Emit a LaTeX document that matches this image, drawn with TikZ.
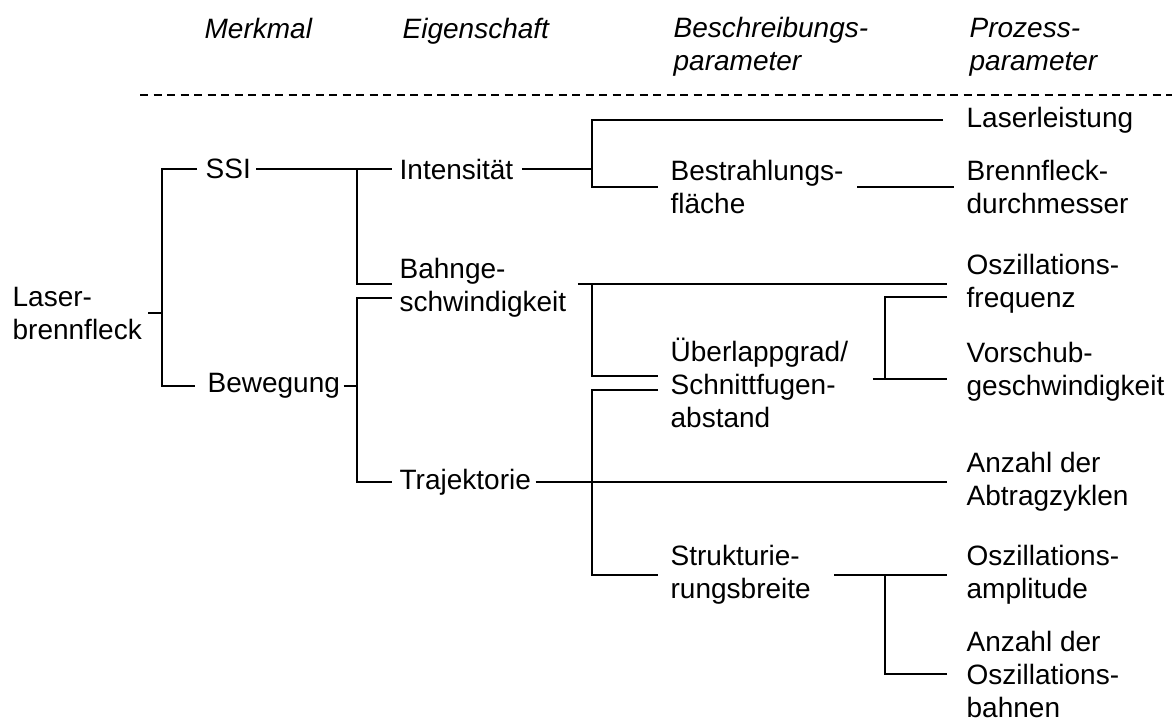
\documentclass[tikz,border=0pt]{standalone}
\usepackage{fontspec}
\setmainfont{Liberation Sans}
\begin{document}
\begin{tikzpicture}[x=0.5pt,y=-0.5pt,line width=0.65pt,
  txt/.style={anchor=west,inner sep=0pt,align=left,font=\fontsize{14}{16.5}\selectfont},
  head/.style={txt,font=\fontsize{14}{16.5}\selectfont\itshape}]
\useasboundingbox (0,0) rectangle (1172,720);
\node[head] (hmerk) at (204,28) {Merkmal};
\node[head] (heig) at (402,31) {Eigenschaft};
\node[head] (hbesch) at (673,47) {Beschreibungs-\\parameter};
\node[head] (hproz) at (969,47) {Prozess-\\parameter};
\draw[dash pattern=on 4pt off 2.75pt] (140,95) -- (1172,95);

\node[txt] (laser) at (12,313) {Laser-\\brennfleck};
\node[txt] (ssi) at (205,169) {SSI};
\node[txt] (bew) at (207,386) {Bewegung};
\node[txt] (int) at (399,169) {Intensität};
\node[txt] (bahn) at (399,288) {Bahnge-\\schwindigkeit};
\node[txt] (traj) at (399,482) {Trajektorie};
\node[txt] (bestr) at (670,187) {Bestrahlungs-\\fläche};
\node[txt] (ueber) at (670,383) {Überlappgrad/\\Schnittfugen-\\abstand};
\node[txt] (struk) at (670,575) {Strukturie-\\rungsbreite};
\node[txt] (laserl) at (966,120) {Laserleistung};
\node[txt] (brennd) at (966,187) {Brennfleck-\\durchmesser};
\node[txt] (oszf) at (966,284) {Oszillations-\\frequenz};
\node[txt] (vorsch) at (966,372) {Vorschub-\\geschwindigkeit};
\node[txt] (anzab) at (966,482) {Anzahl der\\Abtragzyklen};
\node[txt] (osza) at (966,575) {Oszillations-\\amplitude};
\node[txt] (anzosz) at (966,674) {Anzahl der\\Oszillations-\\bahnen};

\coordinate (k1) at (162,0);
\coordinate (k2) at (357,0);
\coordinate (k3) at (592,0);
\coordinate (k4) at (885,0);

\draw ([xshift=3pt]laser.east) -- (laser.east -| k1);
\draw ([xshift=-4pt]ssi.west) -| (k1 |- bew.west) -- ([xshift=-6pt]bew.west);
\draw ([xshift=2.5pt]ssi.east) -- ([xshift=-3.5pt]int.west);
\draw (ssi.east -| k2) |- ([xshift=-3.5pt,yshift=2pt]bahn.west);
\draw ([xshift=1.5pt]bew.east) -- (bew.east -| k2);
\draw ([xshift=-3.5pt,yshift=-5pt]bahn.west) -| (k2 |- traj.west) -- ([xshift=-3.5pt]traj.west);

\draw ([xshift=4pt]int.east) -- (int.east -| k3);
\draw ([xshift=-11.5pt]laserl.west) -| (k3 |- bestr.west) -- ([xshift=-6pt]bestr.west);
\draw ([xshift=6.5pt]bestr.east) -- ([xshift=-6pt]brennd.west);
\draw ([xshift=5.5pt,yshift=2pt]bahn.east) -- ([xshift=-9.5pt]oszf.west);
\draw (oszf.west -| k3) |- ([xshift=-6pt,yshift=3.5pt]ueber.west);
\draw ([xshift=2pt]traj.east) -- ([xshift=-9.5pt]anzab.west);
\draw ([xshift=-6pt,yshift=-3.5pt]ueber.west) -| (k3 |- struk.west) -- ([xshift=-6pt]struk.west);

\draw ([xshift=12pt,yshift=2pt]ueber.east) coordinate (ue) -- ([xshift=-9.5pt,yshift=-3.5pt]vorsch.west);
\draw ([xshift=-9.5pt,yshift=-6.5pt]oszf.west) -| (k4 |- ue);
\draw ([xshift=11.5pt]struk.east) -- ([xshift=-9.5pt]osza.west);
\draw ([xshift=-9.5pt]anzosz.west) -| (k4 |- struk.east);
\end{tikzpicture}
\end{document}
